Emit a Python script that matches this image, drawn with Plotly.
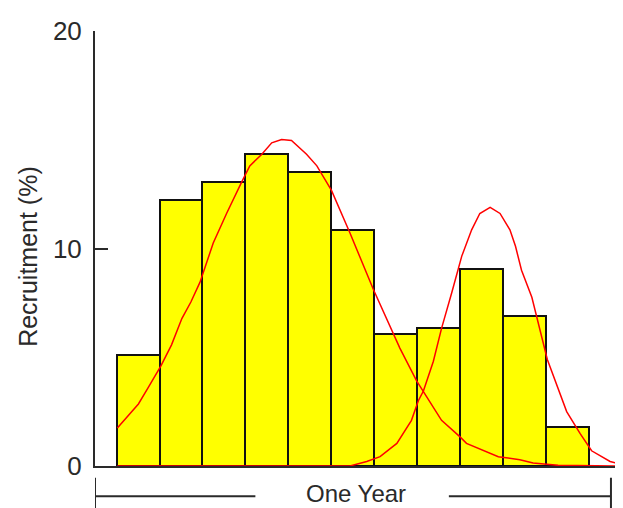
import plotly.graph_objects as go

# Histogram bars (month index, recruitment %)
months = [1, 2, 3, 4, 5, 6, 7, 8, 9, 10, 11]
recruitment = [5.1, 12.25, 13.06, 14.33, 13.5, 10.86, 6.07, 6.36, 9.04, 6.89, 1.79]

# First fitted curve
curve1_x = [0.52, 0.70, 1.01, 1.24, 1.53, 1.78, 2.02, 2.23, 2.44, 2.75, 3.06, 3.41, 3.60,
            3.88, 4.11, 4.34, 4.57, 4.92, 5.16, 5.50, 5.93, 6.47, 6.94, 7.09, 7.48, 8.06,
            8.49, 8.64, 9.38, 9.88, 10.19, 10.77, 12.28]
curve1_y = [1.75, 2.17, 2.85, 3.61, 4.59, 5.57, 6.78, 7.54, 8.44, 10.25, 11.61, 13.05, 13.8,
            14.33, 14.86, 15.01, 14.97, 14.33, 13.8, 12.67, 10.71, 8.14, 6.03, 5.42, 3.91, 2.10,
            1.34, 1.04, 0.43, 0.29, 0.14, 0.03, 0.0]

# Second fitted curve
curve2_x = [0.52, 5.93, 6.32, 6.63, 7.02, 7.36, 7.52, 7.64, 7.87, 8.06, 8.30, 8.53, 8.76,
            8.95, 9.19, 9.42, 9.65, 9.78, 9.92, 10.16, 10.52, 10.97, 11.28, 11.55, 11.98, 12.28]
curve2_y = [0.0, 0.0, 0.21, 0.43, 1.04, 2.1, 3.0, 3.46, 4.82, 6.33, 7.99, 9.65, 10.86,
            11.61, 11.89, 11.61, 10.86, 10.1, 9.0, 7.76, 4.9, 2.5, 1.5, 0.7, 0.21, 0.06]

y_ticks = [0, 10, 20]
y_tick_text = ["0", "10", "20"]

FONT = "Liberation Sans, Arial, sans-serif"
TXT = "#2a2a2a"

fig = go.Figure()
fig.add_trace(go.Bar(
    x=months, y=recruitment, width=1.0,
    marker=dict(color="#FFFF00", line=dict(color="#111111", width=2)),
    hoverinfo="x+y",
))
fig.add_trace(go.Scatter(x=curve1_x, y=curve1_y, mode="lines",
                         line=dict(color="#FF0000", width=1.5)))
fig.add_trace(go.Scatter(x=curve2_x, y=curve2_y, mode="lines",
                         line=dict(color="#FF0000", width=1.5)))

# "One Year" bracket under the axis
bracket_y = -0.0696
shapes = [
    dict(type="line", xref="x", yref="paper", x0=0, x1=3.73, y0=bracket_y, y1=bracket_y,
         line=dict(color=TXT, width=2)),
    dict(type="line", xref="x", yref="paper", x0=8.23, x1=12, y0=bracket_y, y1=bracket_y,
         line=dict(color=TXT, width=2)),
    dict(type="line", xref="x", yref="paper", x0=0, x1=0, y0=-0.027, y1=-0.1,
         line=dict(color=TXT, width=2)),
    dict(type="line", xref="x", yref="paper", x0=12, x1=12, y0=-0.027, y1=-0.1,
         line=dict(color=TXT, width=2)),
]

fig.update_layout(
    width=623, height=508,
    margin=dict(l=87, r=8, t=17, b=50),
    paper_bgcolor="white", plot_bgcolor="white",
    showlegend=False,
    bargap=0,
    font=dict(family=FONT, size=26, color=TXT),
    shapes=shapes,
    annotations=[
        dict(text="One Year", xref="x", yref="paper", x=6.07, y=-0.064,
             showarrow=False, xanchor="center", yanchor="middle", borderpad=0,
             font=dict(family=FONT, size=24, color=TXT)),
        dict(text="Recruitment (%)", xref="paper", yref="paper", x=-0.127, y=0.483,
             textangle=-90, showarrow=False, xanchor="center", yanchor="middle",
             font=dict(family=FONT, size=25, color=TXT)),
    ],
)
fig.update_xaxes(range=[0, 12.28], showticklabels=False, ticks="", showgrid=False,
                 zeroline=False, showline=True, linecolor=TXT, linewidth=2,
                 layer="below traces")
fig.update_yaxes(range=[0, 20], tickvals=y_ticks, ticktext=y_tick_text, ticks="inside",
                 ticklen=13, tickwidth=2, tickcolor=TXT, showgrid=False, zeroline=False,
                 showline=True, linecolor=TXT, linewidth=2, ticklabelstandoff=6,
                 tickfont=dict(family=FONT, size=26, color=TXT))

fig.write_html("out.html")
